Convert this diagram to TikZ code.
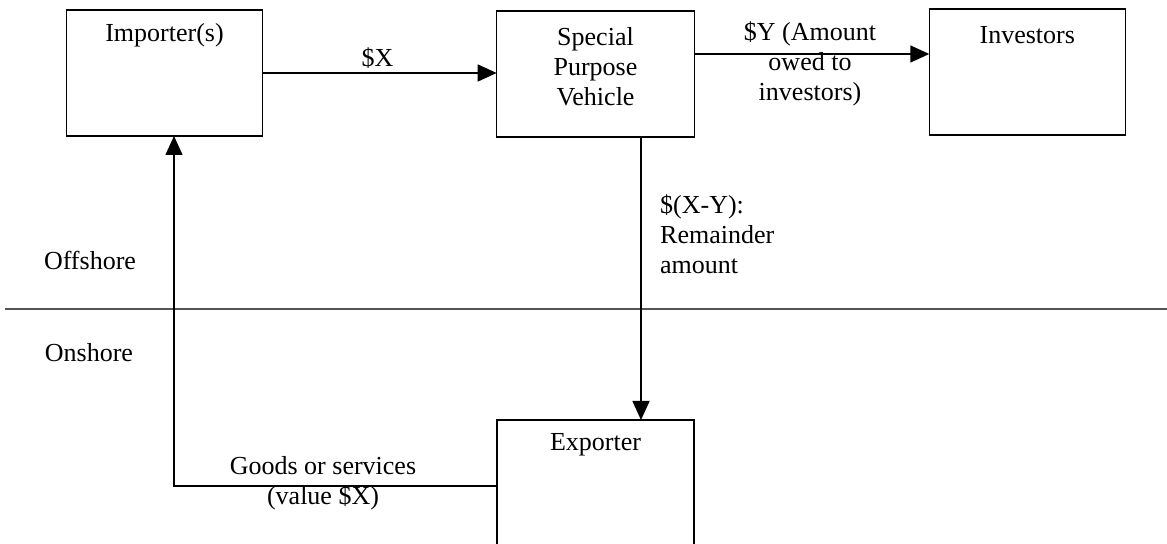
\documentclass[tikz,border=0pt]{standalone}
\usepackage{fontspec}
\setmainfont{Liberation Serif}
\usetikzlibrary{arrows.meta}
\begin{document}
\begin{tikzpicture}[x=1bp,y=-1bp,
  box/.style={draw=black,line width=1.4bp,minimum width=196bp,minimum height=126bp,inner sep=0,outer sep=0},
  txt/.style={inner sep=0,align=center,font=\fontsize{26bp}{30bp}\selectfont},
  conn/.style={line width=1.4bp,-{Triangle[length=19bp,width=17bp]}},
  plain/.style={line width=1.4bp},
  sep/.style={line width=2bp,draw={rgb,255:red,85;green,85;blue,85}}]
\useasboundingbox (0,0) rectangle (1167,544);
\clip (0,0) rectangle (1167,544);
% boxes
\node[box] (imp) at (164.5,73) {};
\node[box,minimum width=197.6bp] (spv) at (595.5,74) {};
\node[box] (inv) at (1027.3,72) {};
\node[box,minimum width=197bp,minimum height=140bp] (exp) at (595.5,490) {};
% box texts
\node[txt] (impt) at (164.5,35) {Importer(s)};
\node[txt] (spvt) at (595.5,67) {Special\\Purpose\\Vehicle};
\node[txt] (invt) at (1027.3,35) {Investors};
\node[txt] (expt) at (595.5,445) {Exporter};
% helper coordinates
\coordinate (yY) at (0,54);
\coordinate (xv) at (641,0);
\coordinate (xg) at (174,0);
\coordinate (yg) at (0,486);
\coordinate (sepL) at (5,309);
\coordinate (sepR) at (1167,309);
% separator
\draw[sep] (sepL) -- (sepR);
% connectors
\draw[conn] (imp.east) -- (imp.east -| spv.west);
\draw[conn] (spv.east |- yY) -- (inv.west |- yY);
\draw[conn] (spv.south -| xv) -- (exp.north -| xv);
\draw[conn] (exp.west |- yg) -- (xg |- yg) -- (imp.south -| xg);
% labels
\node[txt] (lx) at (377.5,58) {\$X};
\node[txt] (ly) at (810,64) {\$Y (Amount\\owed to\\investors)};
\node[txt,anchor=west,align=left] (lxy) at (660,234) {\$(X-Y):\\Remainder\\amount};
\node[txt] (lg) at (323,483) {Goods or services\\(value \$X)};
\node[txt] (off) at (90,260) {Offshore};
\node[txt] (on) at (89,353) {Onshore};
\end{tikzpicture}
\end{document}
